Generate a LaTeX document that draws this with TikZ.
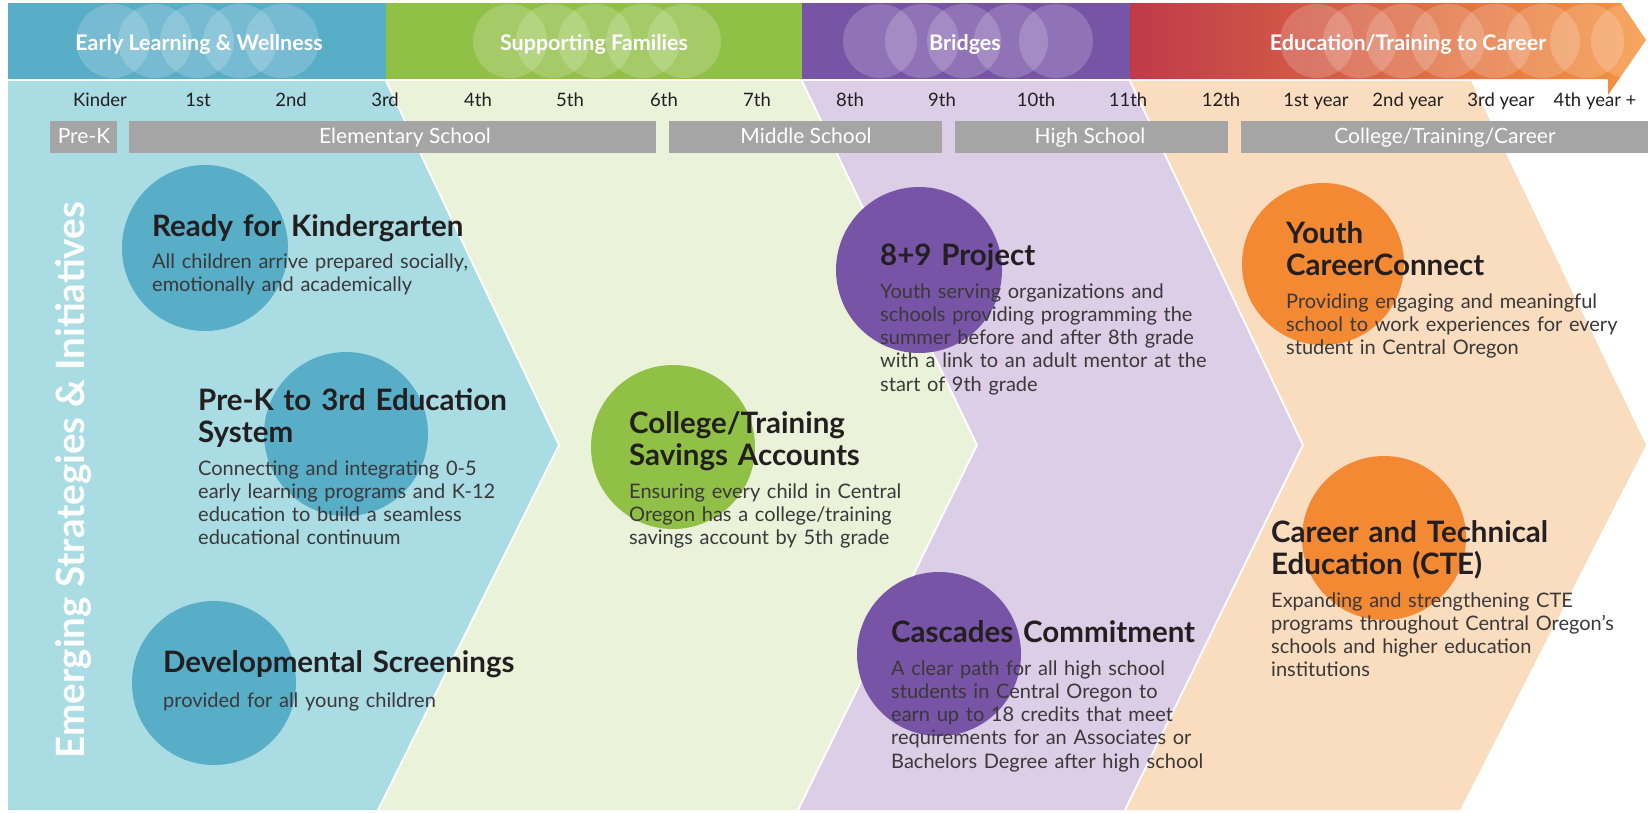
\documentclass[tikz,border=0pt]{standalone}
\usepackage{fontspec}
\setmainfont{Lato}
\definecolor{bluedark}{RGB}{88,173,199}
\definecolor{bluelight}{RGB}{170,220,228}
\definecolor{greendark}{RGB}{145,192,70}
\definecolor{greenlight}{RGB}{234,243,217}
\definecolor{purpledark}{RGB}{120,84,166}
\definecolor{purplelight}{RGB}{219,206,230}
\definecolor{reddark}{RGB}{192,58,74}
\definecolor{orangedark}{RGB}{246,148,62}
\definecolor{peach}{RGB}{250,220,191}
\definecolor{orangecirc}{RGB}{244,137,52}
\definecolor{bargray}{RGB}{166,165,166}
\definecolor{ink}{RGB}{35,31,32}
\definecolor{bodyink}{RGB}{58,56,57}
\tikzset{
  sep/.style={white, line width=1.8pt, line join=round},
  lens/.style={white, opacity=0.18},
  bannertext/.style={anchor=base, inner sep=0, text=white, font=\fontsize{21.5}{24}\selectfont\bfseries},
  grade/.style={anchor=base, inner sep=0, text=ink, font=\fontsize{18.5}{21}\selectfont},
  barbox/.style={fill=bargray, draw=none},
  bartext/.style={anchor=base, inner sep=0, text=white, font=\fontsize{21}{24}\selectfont},
  dot/.style={circle, draw=none, inner sep=0, minimum size=#1},
  title/.style={anchor=base west, inner sep=0, text width=470pt, align=left, text=ink, font=\fontsize{29.5}{32}\selectfont\bfseries},
  desc/.style={anchor=base west, inner sep=0, text width=470pt, align=left, text=bodyink, font=\fontsize{20}{23.3}\selectfont},
}
\begin{document}
\begin{tikzpicture}[x=1pt,y=-1pt]
\useasboundingbox (0,0) rectangle (1648,812);
\fill[white] (0,0) rectangle (1648,812);
% ---------- body chevrons ----------
\fill[peach] (1130,81) -- (1471,81) -- (1646,445) -- (1460,810) -- (1125,810) -- (1303,445) -- cycle;
\fill[purplelight] (802,81) -- (1130,81) -- (1303,445) -- (1125,810) -- (798,810) -- (977,445) -- cycle;
\fill[greenlight] (386,81) -- (802,81) -- (977,445) -- (798,810) -- (378,810) -- (559,445) -- cycle;
\fill[bluelight] (8,81) -- (386,81) -- (559,445) -- (378,810) -- (8,810) -- cycle;
\draw[sep] (386,81) -- (559,445) -- (378,810);
\draw[sep] (802,81) -- (977,445) -- (798,810);
\draw[sep] (1130,81) -- (1303,445) -- (1125,810);
% ---------- banner ----------
\fill[bluedark] (8,3) rectangle (386,79);
\fill[greendark] (386,3) rectangle (802,79);
\fill[purpledark] (802,3) rectangle (1130,79);
\shade[left color=reddark, right color=orangedark] (1130,3) -- (1621,3) -- (1646,40) -- (1608,95) -- (1608,79) -- (1130,79) -- cycle;
\begin{scope}
  \clip (8,3) rectangle (386,79);
  \foreach \cx in {113,155,197,240,282} \fill[lens] (\cx,41) circle[radius=37pt];
\end{scope}
\begin{scope}
  \clip (386,3) rectangle (802,79);
  \foreach \cx in {510,553,595,643,684} \fill[lens] (\cx,41) circle[radius=37pt];
\end{scope}
\begin{scope}
  \clip (802,3) rectangle (1130,79);
  \foreach \cx in {880,922,964,1011,1056} \fill[lens] (\cx,41) circle[radius=37pt];
\end{scope}
\begin{scope}
  \clip (1130,3) -- (1621,3) -- (1646,40) -- (1608,95) -- (1608,79) -- (1130,79) -- cycle;
  \foreach \cx in {1317,1360,1403,1448,1495,1543,1587,1628} \fill[lens] (\cx,41) circle[radius=37pt];
\end{scope}
\node[bannertext] (b1) at (199,50) {Early Learning \& Wellness};
\node[bannertext] (b2) at (594,50) {Supporting Families};
\node[bannertext] (b3) at (965,50) {Bridges};
\node[bannertext] (b4) at (1408,50) {Education/Training to Career};
% ---------- grades ----------
\node[grade] (g0) at (100,106) {Kinder};
\node[grade] (g1) at (198,106) {1st};
\node[grade] (g2) at (291,106) {2nd};
\node[grade] (g3) at (385,106) {3rd};
\node[grade] (g4) at (478,106) {4th};
\node[grade] (g5) at (570,106) {5th};
\node[grade] (g6) at (664,106) {6th};
\node[grade] (g7) at (757,106) {7th};
\node[grade] (g8) at (850,106) {8th};
\node[grade] (g9) at (942,106) {9th};
\node[grade] (g10) at (1036,106) {10th};
\node[grade] (g11) at (1128,106) {11th};
\node[grade] (g12) at (1221,106) {12th};
\node[grade] (y1) at (1316,106) {1st year};
\node[grade] (y2) at (1408,106) {2nd year};
\node[grade] (y3) at (1501,106) {3rd year};
\node[grade] (y4) at (1595,106) {4th year +};
% ---------- school bars ----------
\fill[barbox] (50,121) rectangle (117,153);
\fill[barbox] (129,121) rectangle (656,153);
\fill[barbox] (669,121) rectangle (942,153);
\fill[barbox] (955,121) rectangle (1228,153);
\fill[barbox] (1241,121) rectangle (1648,153);
\node[bartext] (s0) at (84,143) {Pre-K};
\node[bartext] (s1) at (405,143) {Elementary School};
\node[bartext] (s2) at (806,143) {Middle School};
\node[bartext] (s3) at (1090,143) {High School};
\node[bartext] (s4) at (1445,143) {College/Training/Career};
% ---------- vertical label ----------
\node[rotate=90, inner sep=0, text=white] (vert) at (74,480)
  {\resizebox{556pt}{29pt}{\fontsize{40}{44}\selectfont\bfseries Emerging Strategies \& Initiatives}};
% ---------- circles ----------
\node[dot=166pt, fill=bluedark] (c1) at (205,248) {};
\node[dot=164pt, fill=bluedark] (c2) at (346,434) {};
\node[dot=164pt, fill=bluedark] (c3) at (214,683) {};
\node[dot=164pt, fill=greendark] (c4) at (673,447) {};
\node[dot=166pt, fill=purpledark] (c5) at (919,270) {};
\node[dot=164pt, fill=purpledark] (c6) at (939,654) {};
\node[dot=162pt, fill=orangecirc] (c7) at (1323,264) {};
\node[dot=164pt, fill=orangecirc] (c8) at (1384,538) {};
% ---------- texts ----------
\node[title] (t1) at (152,236) {Ready for Kindergarten};
\node[desc] (d1) at (152,268) {All children arrive prepared socially,\\emotionally and academically};
\node[title] (t2) at (198,410) {Pre-K to 3rd Education\\System};
\node[desc] (d2) at (198,475) {Connecting and integrating 0-5\\early learning programs and K-12\\education to build a seamless\\educational continuum};
\node[title] (t3) at (163,672) {Developmental Screenings};
\node[desc] (d3) at (163,707) {provided for all young children};
\node[title] (t4) at (629,433) {College/Training\\Savings Accounts};
\node[desc] (d4) at (629,498) {Ensuring every child in Central\\Oregon has a college/training\\savings account by 5th grade};
\node[title] (t5) at (880,265) {8+9 Project};
\node[desc] (d5) at (880,298) {Youth serving organizations and\\schools providing programming the\\summer before and after 8th grade\\with a link to an adult mentor at the\\start of 9th grade};
\node[title] (t6) at (891,642) {Cascades Commitment};
\node[desc] (d6) at (891,675) {A clear path for all high school\\students in Central Oregon to\\earn up to 18 credits that meet\\requirements for an Associates or\\Bachelors Degree after high school};
\node[title] (t7) at (1286,243) {Youth\\CareerConnect};
\node[desc] (d7) at (1286,308) {Providing engaging and meaningful\\school to work experiences for every\\student in Central Oregon};
\node[title] (t8) at (1271,542) {Career and Technical\\Education (CTE)};
\node[desc] (d8) at (1271,607) {Expanding and strengthening CTE\\programs throughout Central Oregon’s\\schools and higher education\\institutions};
\end{tikzpicture}
\end{document}
